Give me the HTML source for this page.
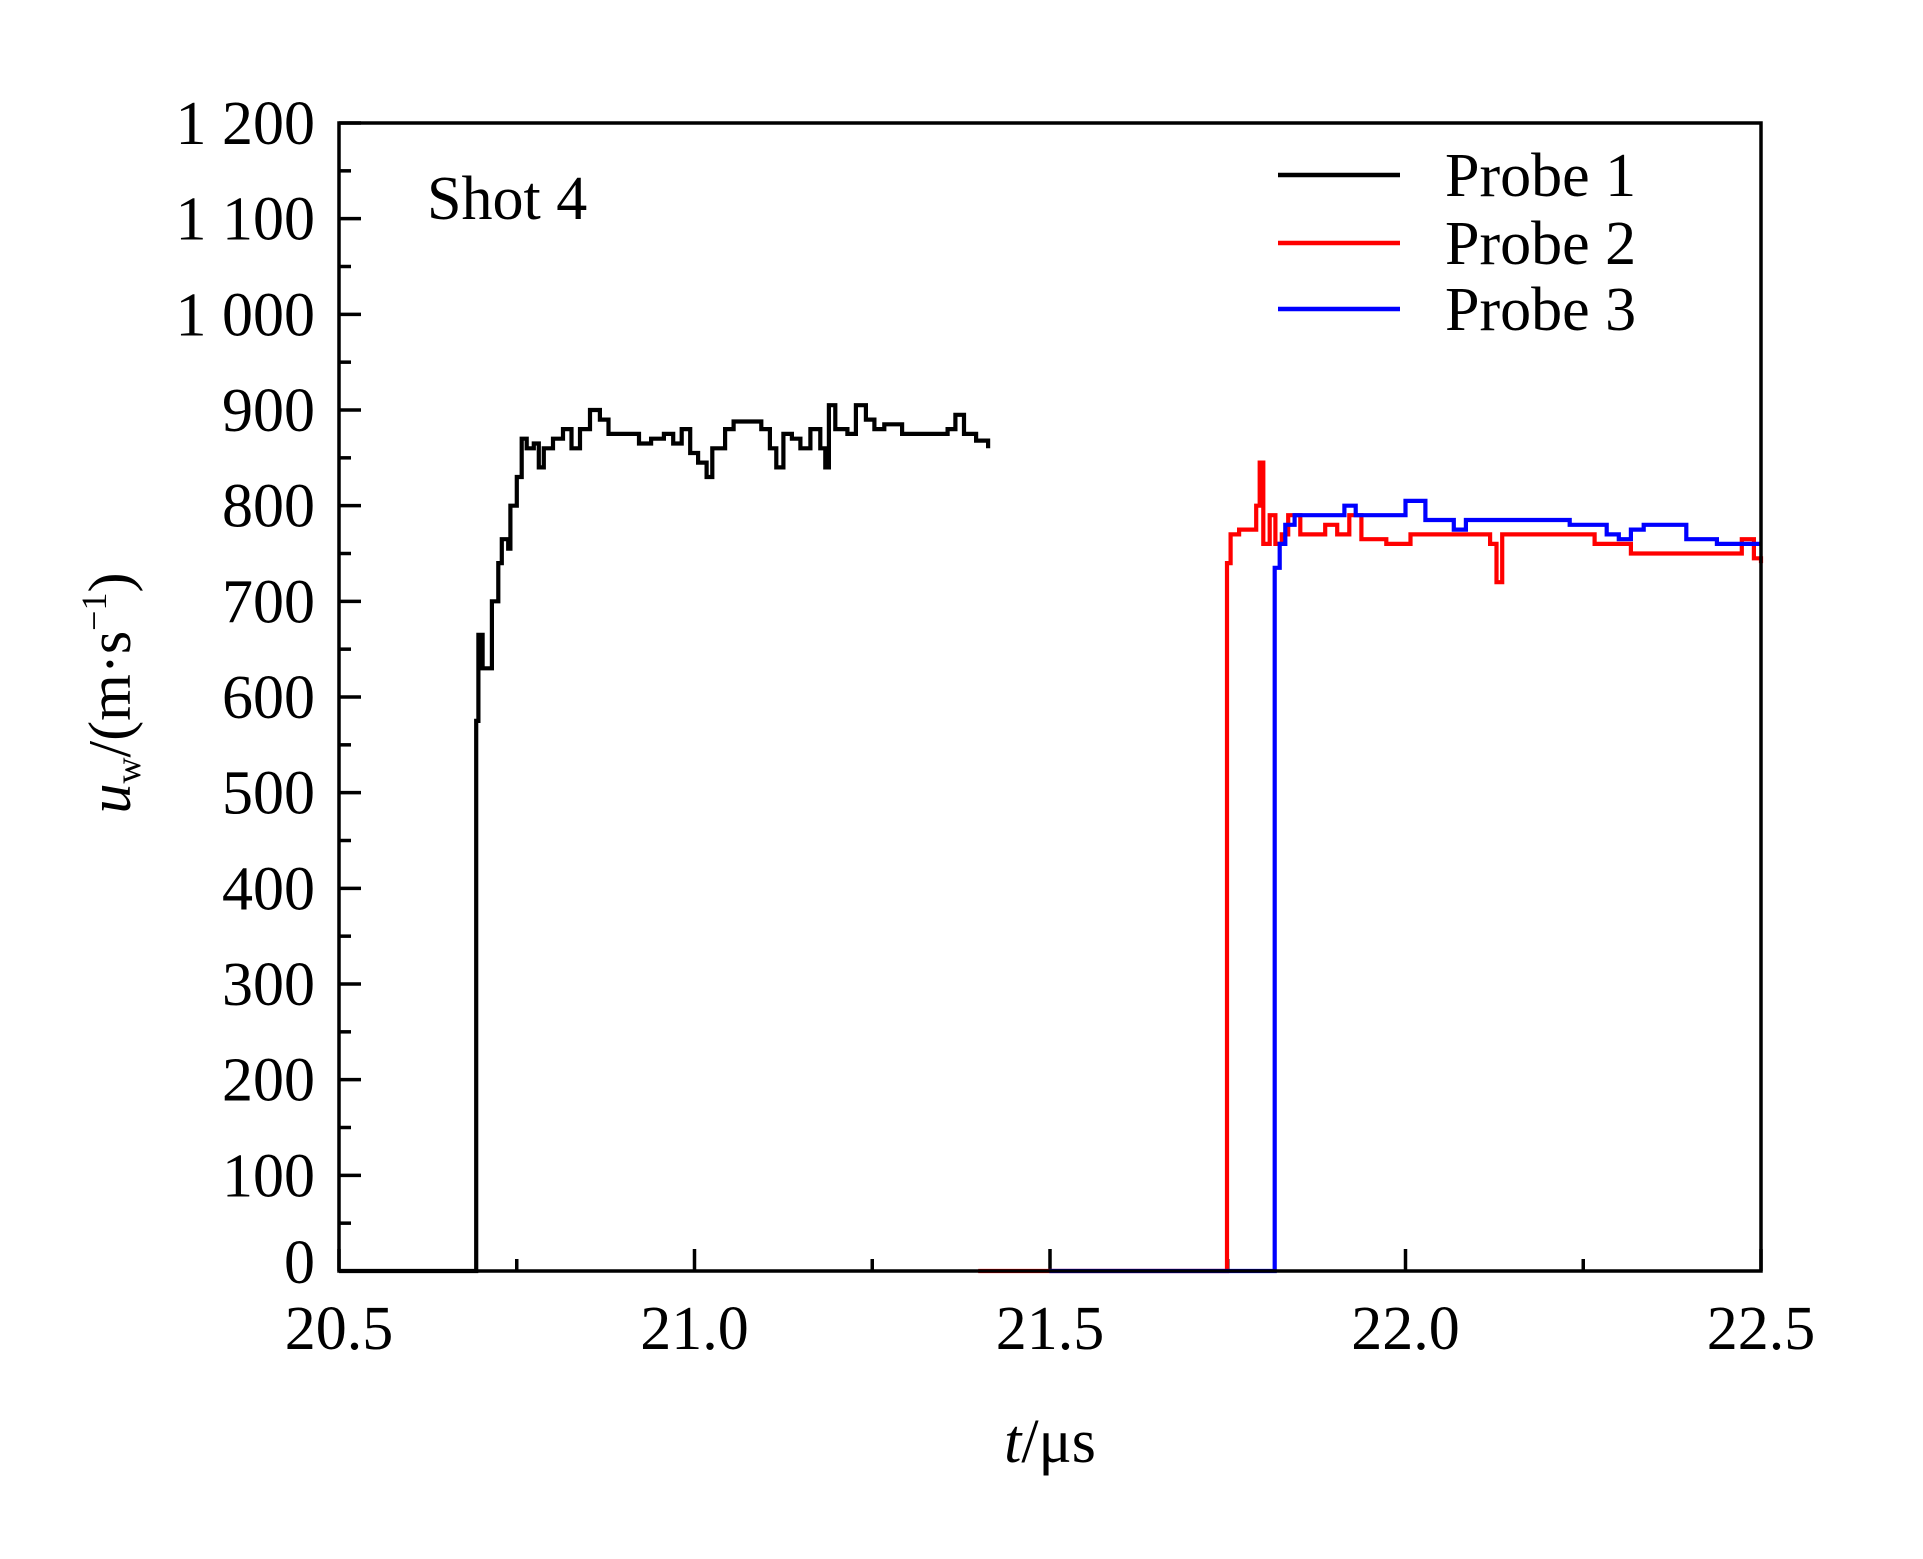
<!DOCTYPE html>
<html><head><meta charset="utf-8">
<style>
html,body{margin:0;padding:0;background:#fff;}
svg{display:block;font-family:"Liberation Serif",serif;}
</style></head>
<body>
<svg id="chart" width="1923" height="1559" viewBox="0 0 1923 1559" xmlns="http://www.w3.org/2000/svg">
<rect x="0" y="0" width="1923" height="1559" fill="#fff"/>
<g id="ticks"></g>
<g id="series"></g>
<rect x="339" y="123" width="1422" height="1148" fill="none" stroke="#000" stroke-width="3.5"/>
<text x="427" y="219" font-size="62">Shot 4</text>
<g font-size="62">
<line x1="1278" y1="175" x2="1400" y2="175" stroke="#000" stroke-width="4.5"/>
<text x="1445" y="196">Probe 1</text>
<line x1="1278" y1="243" x2="1400" y2="243" stroke="#f00" stroke-width="4.5"/>
<text x="1445" y="264">Probe 2</text>
<line x1="1278" y1="309" x2="1400" y2="309" stroke="#00f" stroke-width="4.5"/>
<text x="1445" y="330">Probe 3</text>
</g>
<text transform="translate(130,693) rotate(-90)" text-anchor="middle" font-size="60"><tspan font-style="italic">u</tspan><tspan font-size="36" dy="10">w</tspan><tspan dy="-10">/(m·s</tspan><tspan font-size="36" dy="-24">−1</tspan><tspan dy="24">)</tspan></text>
<text x="1050" y="1462" text-anchor="middle" font-size="62"><tspan font-style="italic">t</tspan>/μs</text>
</svg>
<script>
const yTicks=[0,100,200,300,400,500,600,700,800,900,1000,1100,1200];
const yTickLabels=["0","100","200","300","400","500","600","700","800","900","1 000","1 100","1 200"];
const xTicks=[20.5,21.0,21.5,22.0,22.5];
const xTickLabels=["20.5","21.0","21.5","22.0","22.5"];
const p1T=[20.5,20.693,20.693,20.696,20.702,20.712,20.715,20.724,20.729,20.738,20.741,20.750,20.757,20.764,20.774,20.781,20.788,20.801,20.815,20.827,20.839,20.853,20.867,20.879,20.905,20.922,20.939,20.957,20.970,20.982,20.994,21.005,21.017,21.025,21.043,21.055,21.077,21.094,21.106,21.115,21.125,21.137,21.149,21.163,21.177,21.184,21.189,21.198,21.215,21.227,21.241,21.253,21.267,21.292,21.318,21.344,21.356,21.367,21.379,21.396,21.413];
const p1U=[0,0,575,665,630,630,700,740,765,755,800,830,870,860,865,840,860,870,880,860,880,900,890,875,875,865,870,875,865,880,855,845,830,860,880,888,888,880,860,840,875,870,860,880,860,840,905,880,875,905,890,880,885,875,875,875,880,895,875,868,860];
const p2T=[21.399,21.749,21.749,21.754,21.766,21.783,21.790,21.795,21.800,21.809,21.817,21.826,21.835,21.852,21.887,21.904,21.921,21.938,21.973,22.007,22.042,22.093,22.119,22.128,22.136,22.180,22.231,22.266,22.317,22.369,22.421,22.473,22.490,22.5];
const p2U=[0,0,740,770,775,775,800,845,760,790,760,770,790,770,780,770,790,765,760,770,770,770,760,720,770,770,770,760,750,750,750,765,745,740];
const p3T=[21.499,21.816,21.816,21.823,21.831,21.844,21.904,21.914,21.930,21.990,22.0,22.020,22.028,22.059,22.068,22.085,22.137,22.231,22.266,22.283,22.300,22.317,22.335,22.369,22.395,22.438,22.5];
const p3U=[0,0,735,760,780,790,790,800,790,790,805,805,785,785,775,785,785,780,780,770,765,775,780,780,765,760,760];

const X0=339,X1=1761,Y0=1271,Y1=123;
const xs=t=>X0+(t-20.5)/2*(X1-X0);
const ys=u=>Y0-u/1200*(Y0-Y1);
const NS="http://www.w3.org/2000/svg";
const svg=document.getElementById('chart');
const tg=document.getElementById('ticks');
const sg=document.getElementById('series');
function mk(tag,attrs,parent){const e=document.createElementNS(NS,tag);for(const k in attrs)e.setAttribute(k,attrs[k]);parent.appendChild(e);return e;}
yTicks.forEach((v,i)=>{
  const y=ys(v);
  const l=mk('line',{x1:X0,x2:X0+22,y1:y,y2:y,stroke:'#000','stroke-width':3.5},tg);
  
  
  if(i<yTicks.length-1){
    const m=mk('line',{x1:X0,x2:X0+12,y1:ys(v+50),y2:ys(v+50),stroke:'#000','stroke-width':3.5},tg);
    
    
  }
  const t=mk('text',{x:315,y:y+(i==0?12:21),'text-anchor':'end','font-size':62},svg);
  t.textContent=yTickLabels[i];
  
  
});
xTicks.forEach((v,i)=>{
  const x=xs(v);
  const l=mk('line',{x1:x,x2:x,y1:Y0,y2:Y0-22,stroke:'#000','stroke-width':3.5},tg);
  
  
  if(i<xTicks.length-1){
    const m=mk('line',{x1:xs(v+0.25),x2:xs(v+0.25),y1:Y0,y2:Y0-12,stroke:'#000','stroke-width':3.5},tg);
    
    
  }
  const t=mk('text',{x:x,y:1349,'text-anchor':'middle','font-size':62},svg);
  t.textContent=xTickLabels[i];
  
  
});
function line(T,U,color,name){
  let d='';
  T.forEach((t,i)=>{
    const x=xs(t).toFixed(1),y=ys(U[i]).toFixed(1);
    if(i==0) d+='M'+x+','+y;
    else d+='H'+x+'V'+y;
  });
  const p=mk('path',{d:d,fill:'none',stroke:color,'stroke-width':4.2,'stroke-linejoin':'miter'},sg);
  
  
}
line(p1T,p1U,'#000','probe-1-line');
line(p2T,p2U,'#f00','probe-2-line');
line(p3T,p3U,'#00f','probe-3-line');
</script>
</body></html>
